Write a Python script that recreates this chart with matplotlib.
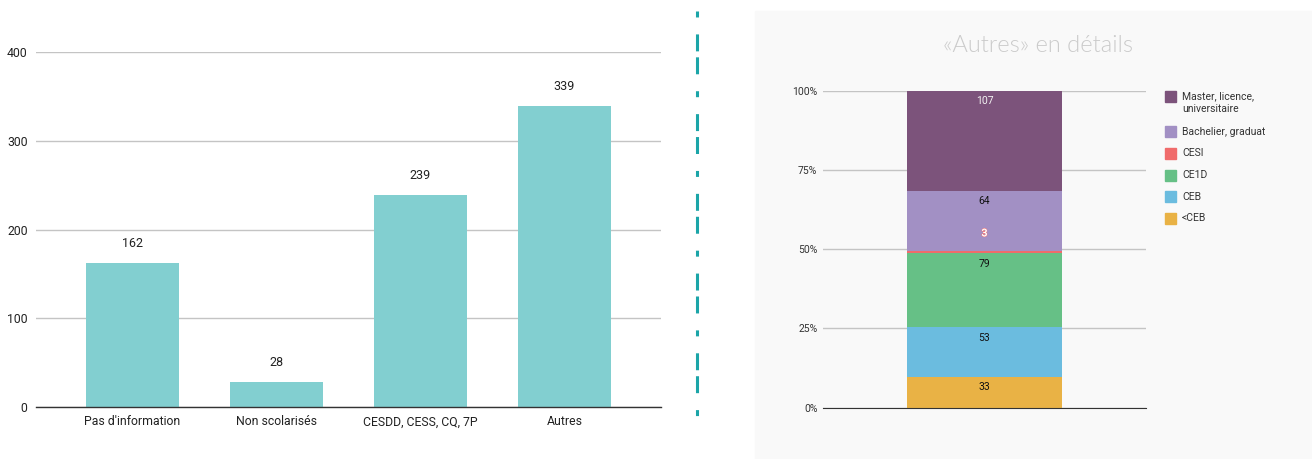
import matplotlib.pyplot as plt
import matplotlib.patheffects as pe
from matplotlib.lines import Line2D
from matplotlib.patches import Rectangle
import numpy as np

plt.rcParams['font.family'] = ['Roboto', 'DejaVu Sans']
plt.rcParams['lines.scale_dashes'] = False

# Données du graphique de gauche
categories = ["Pas d'information", "Non scolarisés", "CESDD, CESS, CQ, 7P", "Autres"]
effectifs = [162, 28, 239, 339]

# Détail de la catégorie « Autres » (du bas vers le haut)
niveaux = ['<CEB', 'CEB', 'CE1D', 'CESI', 'Bachelier, graduat', 'Master, licence,\nuniversitaire']
effectifs_autres = [33, 53, 79, 3, 64, 107]
couleurs_autres = ['#E9B245', '#6BBCDF', '#66C086', '#F06B6B', '#A290C4', '#7C537B']

W, H = 1312, 459
fig = plt.figure(figsize=(W / 100, H / 100), dpi=100)
fig.patch.set_facecolor('white')


def px(x, y):
    # coordonnées en pixels (origine en haut à gauche) -> fraction de figure
    return x / W, 1 - y / H


# Fond gris du panneau de droite
fig.add_artist(Rectangle(px(755, 459), (W - 755) / W, (459 - 11) / H,
                         transform=fig.transFigure, color='#F9F9F9', zorder=0))

# Séparateur vertical en tirets
x0, y0 = px(697, 11)
_, y1 = px(697, 416)
sep = Line2D([x0, x0], [y0, y1], transform=fig.transFigure, color='#1BA5A8',
             linewidth=2.2, dashes=(4.3, 12.2, 12.2, 4.3, 12.2, 12.2),
             solid_capstyle='butt', dash_capstyle='butt')
fig.add_artist(sep)

# ---- Graphique de gauche : effectifs par catégorie ----
ax = fig.add_axes([36 / W, 52 / H, (661 - 36) / W, (407 - 52) / H])
x = np.arange(len(categories))
barres = ax.bar(x, effectifs, width=0.646, color='#82CFD0', zorder=2)
for xi, v in zip(x, effectifs):
    ax.annotate(str(v), (xi, v), xytext=(0, 14), textcoords='offset points',
                ha='center', va='center', fontsize=9, color='#222222')
ax.set_xlim(-0.67, 3.67)
ax.set_ylim(0, 400)
ax.set_yticks([0, 100, 200, 300, 400])
ax.set_xticks(x)
ax.set_xticklabels(categories)
ax.yaxis.grid(True, color='#C4C4C4', linewidth=1)
ax.set_axisbelow(True)
for s in ['top', 'right', 'left']:
    ax.spines[s].set_visible(False)
ax.spines['bottom'].set_color('#333333')
ax.spines['bottom'].set_linewidth(1)
ax.spines['bottom'].set_zorder(3)
ax.tick_params(length=0, labelsize=8.8, colors='#222222')
ax.tick_params(axis='y', pad=6)
ax.tick_params(axis='x', pad=6)
ax.set_facecolor('none')

# ---- Graphique de droite : détail de « Autres » en 100 % ----
ax2 = fig.add_axes([823 / W, (459 - 407.7) / H, (1146 - 823) / W, (407.7 - 90.7) / H])
total = sum(effectifs_autres)
parts = np.array(effectifs_autres) / total
bas = np.concatenate([[0], np.cumsum(parts)[:-1]])
ax2.bar(0, parts, bottom=bas, width=1, color=couleurs_autres, zorder=2,
        edgecolor='none')

for i, (v, b, p) in enumerate(zip(effectifs_autres, bas, parts)):
    haut = b + p
    if niveaux[i] == 'CESI':
        # petit segment : étiquette placée au-dessus
        ax2.annotate(str(v), (0, haut), xytext=(0, 12.5), textcoords='offset points',
                     ha='center', va='center', fontsize=7.5, color='white',
                     path_effects=[pe.withStroke(linewidth=1.0, foreground='#F08080'),
                                   pe.Normal()])
    else:
        couleur = '#F2F2F2' if i == len(effectifs_autres) - 1 else '#111111'
        ax2.annotate(str(v), (0, haut), xytext=(0, -7.5), textcoords='offset points',
                     ha='center', va='center', fontsize=7.5, color=couleur)

ax2.set_xlim(-1.042, 1.042)
ax2.set_ylim(0, 1)
ax2.set_yticks([0, 0.25, 0.5, 0.75, 1])
ax2.set_yticklabels(['0%', '25%', '50%', '75%', '100%'])
ax2.set_xticks([])
ax2.yaxis.grid(True, color='#C4C4C4', linewidth=1)
ax2.set_axisbelow(True)
for s in ['top', 'right', 'left']:
    ax2.spines[s].set_visible(False)
ax2.spines['bottom'].set_color('#333333')
ax2.spines['bottom'].set_zorder(3)
ax2.tick_params(length=0, labelsize=7.5, colors='#333333', pad=4)
ax2.set_facecolor('none')

# Titre du panneau
tx, ty = px(1038, 45)
fig.text(tx, ty, '«Autres» en détails', ha='center', va='center', fontsize=17,
         family=['Lato', 'DejaVu Sans'], fontweight=300, color='#CBCBCB')

# Légende (du haut vers le bas)
y = 96
for nom, couleur in zip(niveaux[::-1], couleurs_autres[::-1]):
    lignes = nom.count('\n') + 1
    cx, cy = px(1165, y + 5.5)
    fig.add_artist(Rectangle((cx, cy), 11 / W, 11 / H, transform=fig.transFigure,
                             color=couleur))
    tx, ty = px(1182, y + (lignes - 1) * 7)
    fig.text(tx, ty, nom, ha='left', va='center', fontsize=7.5, color='#333333',
             linespacing=1.35)
    y += 21.7 + (lignes - 1) * 14

fig.savefig('out.png', dpi=100)
